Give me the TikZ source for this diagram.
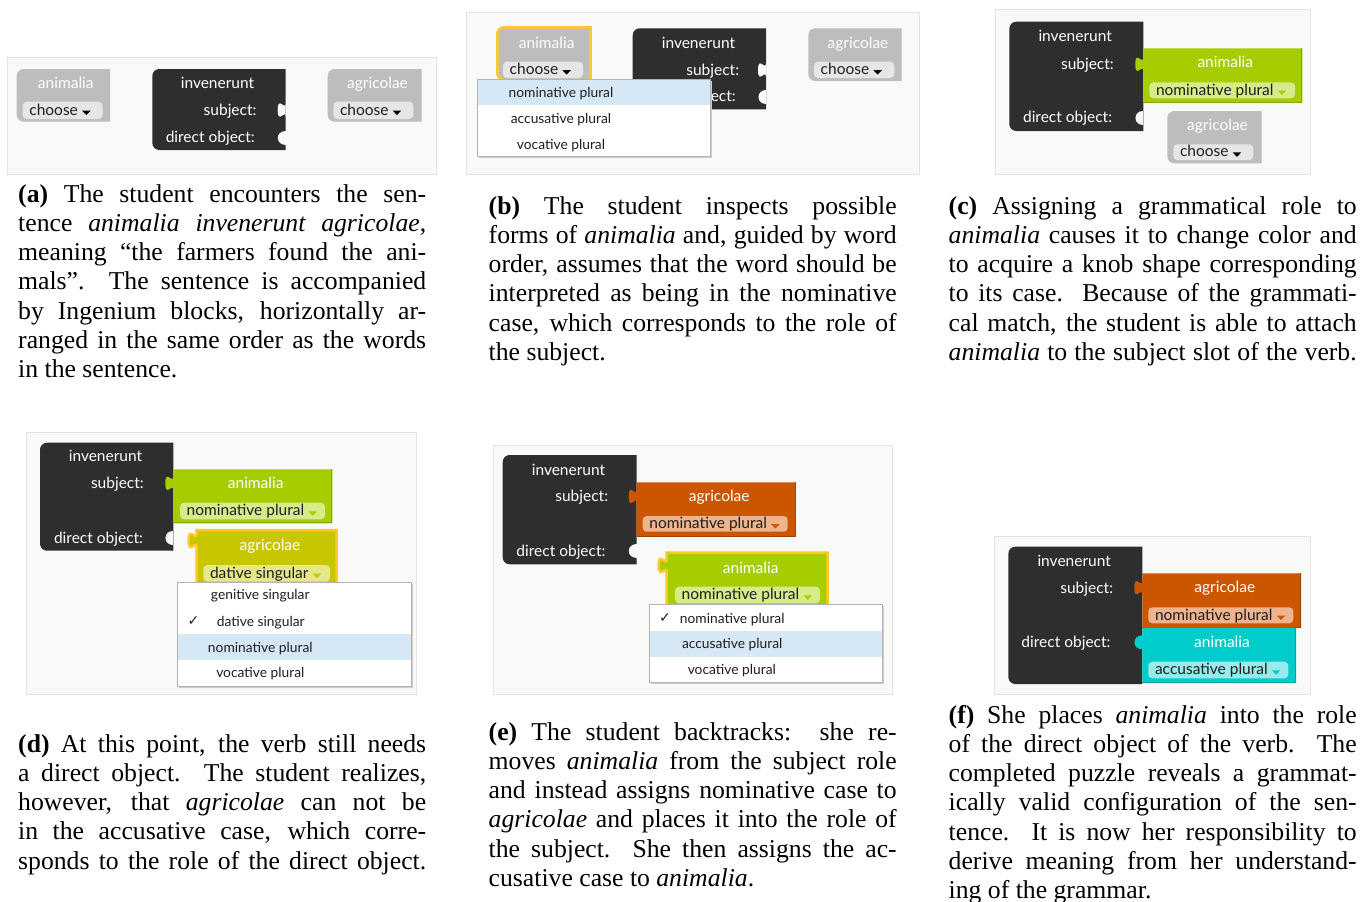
\documentclass[tikz,border=0pt]{standalone}
\usepackage{fontspec}
\setmainfont{Liberation Serif}
\newfontfamily\lato{Lato}
\newfontfamily\chkfont{DejaVu Sans}
\definecolor{cDark}{HTML}{2E2E2E}
\definecolor{cGray}{HTML}{BDBDBD}
\definecolor{cGField}{HTML}{E6E6E6}
\definecolor{cGreen}{HTML}{A5CD00}
\definecolor{cGreenF}{HTML}{D8EB8A}
\definecolor{cGreenD}{HTML}{86A600}
\definecolor{cOlive}{HTML}{C8C600}
\definecolor{cOliveF}{HTML}{E6E68C}
\definecolor{cOrange}{HTML}{CC5500}
\definecolor{cOrangeF}{HTML}{EFB38E}
\definecolor{cOrangeD}{HTML}{A34400}
\definecolor{cCyan}{HTML}{00CCCC}
\definecolor{cCyanF}{HTML}{99EAEA}
\definecolor{cCyanD}{HTML}{00A3A3}
\definecolor{cSel}{HTML}{FFC928}
\definecolor{cPanel}{HTML}{F9F9F8}
\definecolor{cPanelB}{HTML}{E4E4E4}
\definecolor{cMenuB}{HTML}{B3B3B3}
\definecolor{cHi}{HTML}{D6E7F6}
\definecolor{cFText}{HTML}{1F1F1F}
\newcommand\blkfont{\lato\fontsize{15.5}{18}\selectfont}
\newcommand\menufont{\lato\fontsize{13.8}{16}\selectfont}
\newcommand\capfont{\fontsize{25.7}{29.2}\selectfont}
\newcommand\jline[1]{\hbox to 408pt{#1}}
\newcommand\lline[1]{\hbox to 408pt{#1\hfil}}
\newcommand\capbox[1]{\vbox{\baselineskip=29.2pt\lineskiplimit=-30pt\lineskip=0pt #1}}
% block with rounded left corners: opts, x1, y1, x2, y2
\newcommand\lrect[5]{\path[#1] (#4,#3) -- (#2+7,#3) .. controls (#2+3.1,#3) and (#2,#3+3.1) .. (#2,#3+7) -- (#2,#5-7) .. controls (#2,#5-3.1) and (#2+3.1,#5) .. (#2+7,#5) -- (#4,#5) -- cycle;}
% puzzle notch / tab: colour, x edge, y top
\newcommand\ptab[3]{\fill[#1] (#2,#3) .. controls (#2,#3+10) and (#2-8,#3-8) .. (#2-8,#3+7.5) .. controls (#2-8,#3+23) and (#2,#3+5) .. (#2,#3+15) -- cycle;}
\newcommand\rnotch[3]{\fill[#1] (#2,#3) .. controls (#2-10.5,#3) and (#2-10.5,#3+14) .. (#2,#3+14) -- cycle;}
% child block with puzzle tab: opts, x1, y1, x2, y2, tab top
\newcommand\tblock[6]{\path[#1] (#2,#3) -- (#4,#3) -- (#4,#5) -- (#2,#5) -- (#2,#6+15) .. controls (#2,#6+5) and (#2-8,#6+23) .. (#2-8,#6+7.5) .. controls (#2-8,#6-8) and (#2,#6+10) .. (#2,#6) -- cycle;}
\newcommand\rtblock[6]{\path[#1] (#2,#3) -- (#4,#3) -- (#4,#5) -- (#2,#5) -- (#2,#6+14) .. controls (#2-10.5,#6+14) and (#2-10.5,#6) .. (#2,#6) -- cycle;}
\newcommand\blkedge[5]{\draw[#1,line width=1.2pt] (#4-0.6,#3) -- (#4-0.6,#5-0.6) -- (#2,#5-0.6);}
% field: name, x1, y1, x2, y2, fill, text, arrow colour
\newcommand\fld[8]{\fill[#6,rounded corners=4pt] (#2,#3) rectangle (#4,#5);
 \node[ftxt] (#1) at (#2+6.5,{(#3+#5)/2+1}) {#7};
 \fill[#8] ([xshift=4pt,yshift=2.2pt]#1.mid east) -- ++(8.5,0) -- ++(-4.25,4.4) -- cycle;}
% dropdown menu: x1, y1, x2, y2, highlight y1, highlight y2
\newcommand\dmenu[6]{\fill[black!20] (#1+1.5,#2+1.5) rectangle (#3+1.5,#4+1.5);
 \fill[white] (#1,#2) rectangle (#3,#4);
 \fill[cHi] (#1,#5) rectangle (#3,#6);
 \draw[cMenuB,line width=0.8pt] (#1,#2) rectangle (#3,#4);}
\tikzset{
 panelbox/.style={fill=cPanel, draw=cPanelB, line width=1pt},
 lbl/.style={font=\blkfont, text=white, inner sep=0pt, anchor=mid, yshift=-1.5pt},
 lble/.style={lbl, anchor=mid east},
 ftxt/.style={font=\blkfont, text=cFText, inner sep=0pt, anchor=mid west, yshift=-1.5pt},
 mtxt/.style={font=\menufont, text=cFText, inner sep=0pt, anchor=mid, yshift=-1.5pt},
 chk/.style={font=\chkfont\fontsize{14}{16}\selectfont, text=cFText, inner sep=0pt, anchor=mid, yshift=-1.5pt},
 captxt/.style={font=\capfont, inner sep=0pt, anchor=north west},
}
\begin{document}
\begin{tikzpicture}[x=1pt,y=-1pt]
\useasboundingbox (0,0) rectangle (1360,902);
\fill[white] (0,0) rectangle (1360,902);

% ---------------- panel a ----------------
\path[panelbox] (7.5,57.5) rectangle (436,174);
\lrect{fill=cGray}{16.7}{69}{110}{121.7}
\node[lbl] (a-anim) at (65.8,84.5) {animalia};
\fld{a-animf}{22.7}{101.7}{102.7}{119}{cGField}{choose}{black}
\lrect{fill=cDark}{152.3}{69}{285.7}{150}
\node[lbl] (a-verb) at (217.5,84.5) {invenerunt};
\node[lble] (a-subj) at (256.7,111.5) {subject:};
\node[lble] (a-dobj) at (255,139.2) {direct object:};
\ptab{cPanel}{285.7}{102.5}
\rnotch{cPanel}{285.7}{130.7}
\lrect{fill=cGray}{327.7}{69}{421.7}{121.7}
\node[lbl] (a-agri) at (377.5,84.5) {agricolae};
\fld{a-agrif}{333.3}{101.7}{413.3}{119}{cGField}{choose}{black}

% ---------------- panel b ----------------
\path[panelbox] (466,12.5) rectangle (919,174);
\lrect{fill=cGray,draw=cSel,line width=2.5pt}{497.3}{27.3}{590.7}{80}
\node[lbl] (b-anim) at (546.7,44.8) {animalia};
\fld{b-animf}{503}{61.7}{583}{78}{cGField}{choose}{black}
\lrect{fill=cDark}{632.7}{28.3}{766}{109.3}
\node[lbl] (b-verb) at (698.5,44.8) {invenerunt};
\node[lble] (b-subj) at (739.3,72) {subject:};
\node[lble] (b-dobj) at (736,98.2) {direct object:};
\ptab{cPanel}{766}{62.5}
\rnotch{cPanel}{766}{89.7}
\lrect{fill=cGray}{808.3}{28.3}{901.7}{81}
\node[lbl] (b-agri) at (858,44.8) {agricolae};
\fld{b-agrif}{814}{61.7}{894.3}{78}{cGField}{choose}{black}
\dmenu{477.3}{79}{710.7}{156.7}{79}{105}
\node[mtxt] (b-m1) at (561,94) {nominative plural};
\node[mtxt] (b-m2) at (561,120) {accusative plural};
\node[mtxt] (b-m3) at (561,146) {vocative plural};

% ---------------- panel c ----------------
\path[panelbox] (995,9) rectangle (1310,174);
\lrect{fill=cDark}{1009.3}{21.7}{1143.3}{131}
\node[lbl] (c-verb) at (1075.2,38.2) {invenerunt};
\node[lble] (c-subj) at (1114,65.8) {subject:};
\node[lble] (c-dobj) at (1112.3,119.2) {direct object:};
\rnotch{cPanel}{1143.3}{110.7}
\tblock{fill=cGreen}{1143.3}{48.3}{1302.3}{102.7}{56.8}
\blkedge{cGreenD}{1143.3}{48.3}{1302.3}{102.7}
\node[lbl] (c-anim) at (1225.3,63.8) {animalia};
\fld{c-animf}{1149.3}{82.3}{1295}{98.3}{cGreenF}{nominative plural}{cGreen}
\lrect{fill=cGray}{1167.3}{111}{1261.7}{163.3}
\node[lbl] (c-agri) at (1217.5,126.5) {agricolae};
\fld{c-agrif}{1173.3}{144.3}{1253.3}{160}{cGField}{choose}{black}

% ---------------- panel d ----------------
\path[panelbox] (26,432.7) rectangle (416.7,694.3);
\lrect{fill=cDark}{40}{442.7}{173.3}{550.7}
\node[lbl] (d-verb) at (105.5,458) {invenerunt};
\node[lble] (d-subj) at (144,484.8) {subject:};
\node[lble] (d-dobj) at (143.3,539.8) {direct object:};
\rnotch{cPanel}{173.3}{531.3}
\tblock{fill=cGreen}{173.3}{469.3}{332.3}{523.3}{475.8}
\blkedge{cGreenD}{173.3}{469.3}{332.3}{523.3}
\node[lbl] (d-anim) at (255.7,484.8) {animalia};
\fld{d-animf}{180}{502.7}{325}{519.3}{cGreenF}{nominative plural}{cGreen}
\tblock{fill=cOlive,draw=cSel,line width=2.5pt}{196.7}{530}{336.7}{590}{533}
\node[lbl] (d-agri) at (270,546.8) {agricolae};
\fld{d-agrif}{203.3}{565}{330}{581.7}{cOliveF}{dative singular}{cOlive}
\dmenu{177.3}{582.7}{411}{686}{634}{660}
\node[mtxt] (d-m1) at (260.3,596) {genitive singular};
\node[chk] (d-chk) at (193.5,622) {✓};
\node[mtxt] (d-m2) at (260.8,622.2) {dative singular};
\node[mtxt] (d-m3) at (260.3,648.2) {nominative plural};
\node[mtxt] (d-m4) at (260.3,673.9) {vocative plural};

% ---------------- panel e ----------------
\path[panelbox] (493.3,445) rectangle (892.7,694);
\lrect{fill=cDark}{502.7}{455}{636.7}{564.3}
\node[lbl] (e-verb) at (568.5,471.5) {invenerunt};
\node[lble] (e-subj) at (608.3,498) {subject:};
\node[lble] (e-dobj) at (605.7,552.2) {direct object:};
\rnotch{cPanel}{636.7}{543.7}
\tblock{fill=cOrange}{636.7}{482.3}{795.7}{536.7}{489}
\blkedge{cOrangeD}{636.7}{482.3}{795.7}{536.7}
\node[lbl] (e-agri) at (719.2,498) {agricolae};
\fld{e-agrif}{642.7}{516}{787.7}{531.7}{cOrangeF}{nominative plural}{cOrange}
\tblock{fill=cGreen,draw=cSel,line width=2.5pt}{666.7}{552.7}{827.7}{612}{558}
\node[lbl] (e-anim) at (750.7,569.8) {animalia};
\fld{e-animf}{675}{586.7}{820}{603.3}{cGreenF}{nominative plural}{cGreen}
\dmenu{649}{604.3}{882.7}{682.3}{631}{656.7}
\node[chk] (e-chk) at (665,619) {✓};
\node[mtxt] (e-m1) at (732.2,619.5) {nominative plural};
\node[mtxt] (e-m2) at (732.2,645) {accusative plural};
\node[mtxt] (e-m3) at (731.8,670.5) {vocative plural};

% ---------------- panel f ----------------
\path[panelbox] (994.3,536) rectangle (1310,694.3);
\lrect{fill=cDark}{1008.3}{546.7}{1142.3}{684}
\node[lbl] (f-verb) at (1074.2,562.7) {invenerunt};
\node[lble] (f-subj) at (1113.3,589.2) {subject:};
\node[lble] (f-dobj) at (1110.7,643.8) {direct object:};
\tblock{fill=cOrange}{1142.3}{573.3}{1301}{627.7}{580.2}
\blkedge{cOrangeD}{1142.3}{573.3}{1301}{627.7}
\node[lbl] (f-agri) at (1224.8,589) {agricolae};
\fld{f-agrif}{1148.3}{607.3}{1293.3}{623.3}{cOrangeF}{nominative plural}{cOrange}
\rtblock{fill=cCyan}{1142.3}{627.7}{1296}{682.7}{635.3}
\blkedge{cCyanD}{1142.3}{627.7}{1296}{682.7}
\node[lbl] (f-anim) at (1222,644) {animalia};
\fld{f-animf}{1148.3}{661.7}{1288.3}{678.3}{cCyanF}{accusative plural}{cCyan}

% ---------------- captions ----------------
\node[captxt] (cap-a) at (18,182) {\capbox{%
\jline{\rule{0pt}{20pt}\textbf{(a)} The student encounters the sen-}
\jline{tence \textit{animalia invenerunt agricolae},}
\jline{meaning “the farmers found the ani-}
\jline{mals”.\ \ The sentence is accompanied}
\jline{by Ingenium blocks, horizontally ar-}
\jline{ranged in the same order as the words}
\lline{in the sentence.}}};

\node[captxt] (cap-b) at (488.5,194) {\capbox{%
\jline{\rule{0pt}{20pt}\textbf{(b)} The student inspects possible}
\jline{forms of \textit{animalia} and, guided by word}
\jline{order, assumes that the word should be}
\jline{interpreted as being in the nominative}
\jline{case, which corresponds to the role of}
\lline{the subject.}}};

\node[captxt] (cap-c) at (948.5,194) {\capbox{%
\jline{\rule{0pt}{20pt}\textbf{(c)} Assigning a grammatical role to}
\jline{\textit{animalia} causes it to change color and}
\jline{to acquire a knob shape corresponding}
\jline{to its case.\ \ Because of the grammati-}
\jline{cal match, the student is able to attach}
\jline{\textit{animalia} to the subject slot of the verb.}}};

\node[captxt] (cap-d) at (18,732) {\capbox{%
\jline{\rule{0pt}{20pt}\textbf{(d)} At this point, the verb still needs}
\jline{a direct object.\ \ The student realizes,}
\jline{however, that \textit{agricolae} can not be}
\jline{in the accusative case, which corre-}
\jline{sponds to the role of the direct object.}}};

\node[captxt] (cap-e) at (488.5,720) {\capbox{%
\jline{\rule{0pt}{20pt}\textbf{(e)} The student backtracks:\ \ she re-}
\jline{moves \textit{animalia} from the subject role}
\jline{and instead assigns nominative case to}
\jline{\textit{agricolae} and places it into the role of}
\jline{the subject.\ \ She then assigns the ac-}
\lline{cusative case to \textit{animalia}.}}};

\node[captxt] (cap-f) at (948.5,703) {\capbox{%
\jline{\rule{0pt}{20pt}\textbf{(f)} She places \textit{animalia} into the role}
\jline{of the direct object of the verb.\ \ The}
\jline{completed puzzle reveals a grammat-}
\jline{ically valid configuration of the sen-}
\jline{tence.\ \ It is now her responsibility to}
\jline{derive meaning from her understand-}
\lline{ing of the grammar.}}};
\end{tikzpicture}
\end{document}
